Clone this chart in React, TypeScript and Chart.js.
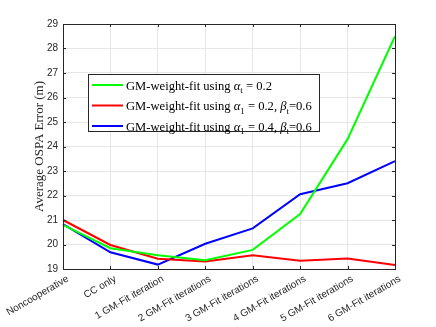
import React, { useEffect, useRef } from "react";
import { Chart, registerables } from "chart.js";

Chart.register(...registerables);

const categories = [
  "Noncooperative",
  "CC only",
  "1 GM-Fit iteration",
  "2 GM-Fit iterations",
  "3 GM-Fit iterations",
  "4 GM-Fit iterations",
  "5 GM-Fit iterations",
  "6 GM-Fit iterations",
];
const greenValues = [20.8, 19.85, 19.56, 19.36, 19.78, 21.24, 24.3, 28.5];
const redValues = [21.0, 19.98, 19.42, 19.31, 19.56, 19.34, 19.43, 19.16];
const blueValues = [20.83, 19.68, 19.18, 20.03, 20.66, 22.05, 22.5, 23.4];
const yTicks = [19, 20, 21, 22, 23, 24, 25, 26, 27, 28, 29];
const yTitle = "Average OSPA Error (m)";

// legend pieces: [text, kind] kind: n normal, i italic, s subscript
const legendRows: { color: string; parts: [string, string][] }[] = [
  { color: "#00ff00", parts: [["GM-weight-fit using ", "n"], ["α", "i"], ["t", "s"], [" = 0.2", "n"]] },
  { color: "#ff0000", parts: [["GM-weight-fit using ", "n"], ["α", "i"], ["1", "s"], [" = 0.2, ", "n"], ["β", "i"], ["t", "s"], ["=0.6", "n"]] },
  { color: "#0000ff", parts: [["GM-weight-fit using ", "n"], ["α", "i"], ["1", "s"], [" = 0.4, ", "n"], ["β", "i"], ["t", "s"], ["=0.6", "n"]] },
];

const AXIS = "#262626";

const framePlugin = {
  id: "frame",
  afterDatasetsDraw(chart: any) {
    const { ctx, chartArea } = chart;
    const { left, right, top, bottom } = chartArea;
    ctx.save();
    ctx.strokeStyle = AXIS;
    ctx.lineWidth = 1;
    ctx.strokeRect(Math.round(left) + 0.5, Math.round(top) + 0.5, Math.round(right - left), Math.round(bottom - top));
    const ys = chart.scales.y;
    const xs = chart.scales.x;
    ctx.beginPath();
    yTicks.forEach((v) => {
      const py = Math.round(ys.getPixelForValue(v)) + 0.5;
      ctx.moveTo(left, py); ctx.lineTo(left + 3, py);
      ctx.moveTo(right, py); ctx.lineTo(right - 3, py);
    });
    categories.forEach((_, i) => {
      const px = Math.round(xs.getPixelForValue(i)) + 0.5;
      ctx.moveTo(px, bottom); ctx.lineTo(px, bottom - 3);
      ctx.moveTo(px, top); ctx.lineTo(px, top + 3);
    });
    ctx.stroke();
    ctx.restore();
  },
  afterDraw(chart: any) {
    const { ctx } = chart;
    const bx = 88.5, by = 74.5, bw = 231, bh = 57;
    ctx.save();
    ctx.fillStyle = "#ffffff";
    ctx.fillRect(bx, by, bw, bh);
    ctx.strokeStyle = "#262626";
    ctx.lineWidth = 1;
    ctx.strokeRect(bx, by, bw, bh);
    legendRows.forEach((row, r) => {
      const cy = 85 + r * 20.5;
      ctx.strokeStyle = row.color;
      ctx.lineWidth = 2;
      ctx.beginPath();
      ctx.moveTo(92, cy);
      ctx.lineTo(123, cy);
      ctx.stroke();
      let x = 126;
      ctx.fillStyle = "#000000";
      ctx.textBaseline = "alphabetic";
      ctx.textAlign = "left";
      row.parts.forEach(([t, k]) => {
        let yoff = cy + 4.5;
        if (k === "i") ctx.font = "italic 12.6px 'Liberation Serif'";
        else if (k === "s") { ctx.font = "8.8px 'Liberation Serif'"; yoff += 3.5; }
        else ctx.font = "12.6px 'Liberation Serif'";
        ctx.fillText(t, x, yoff);
        x += ctx.measureText(t).width;
      });
    });
    ctx.restore();
  },
};

export default function App() {
  const ref = useRef<HTMLCanvasElement>(null);
  useEffect(() => {
    const chart = new Chart(ref.current!, {
      type: "line",
      data: {
        labels: categories,
        datasets: [
          { data: greenValues, borderColor: "#00ff00", borderWidth: 2, pointRadius: 0, tension: 0, fill: false },
          { data: redValues, borderColor: "#ff0000", borderWidth: 2, pointRadius: 0, tension: 0, fill: false },
          { data: blueValues, borderColor: "#0000ff", borderWidth: 2, pointRadius: 0, tension: 0, fill: false },
        ],
      },
      options: {
        animation: false,
        responsive: false,
        layout: { padding: { top: 24, right: 41, left: 0, bottom: 0 } },
        plugins: { legend: { display: false }, tooltip: { enabled: false } },
        scales: {
          x: {
            type: "category",
            offset: false,
            grid: { color: "#e6e6e6", drawTicks: false },
            border: { display: false },
            ticks: {
              color: AXIS,
              font: { family: "'Liberation Sans'", size: 10 },
              maxRotation: 30,
              minRotation: 30,
              autoSkip: false,
              padding: 4,
              labelOffset: 5,
            },
            afterFit(scale: any) {
              scale.height = 58;
              scale.paddingLeft = 0;
              scale.paddingRight = 0;
            },
          },
          y: {
            type: "linear",
            min: 19,
            max: 29,
            grid: { color: "#e6e6e6", drawTicks: false },
            border: { display: false },
            afterBuildTicks(scale: any) {
              scale.ticks = yTicks.map((v) => ({ value: v }));
            },
            ticks: {
              color: AXIS,
              font: { family: "'Liberation Sans'", size: 10 },
              padding: 5,
            },
            title: {
              display: true,
              text: yTitle,
              color: AXIS,
              font: { family: "'Liberation Serif'", size: 13, weight: "normal" },
              padding: { top: 32, bottom: 0 },
            },
            afterFit(scale: any) {
              scale.width = 63;
            },
          },
        },
      },
      plugins: [framePlugin],
    } as any);
    return () => chart.destroy();
  }, []);
  return (
    <div style={{ position: "fixed", left: 0, top: 0, width: 436, height: 327, background: "#fff" }}>
      <canvas ref={ref} width={436} height={327} />
    </div>
  );
}
